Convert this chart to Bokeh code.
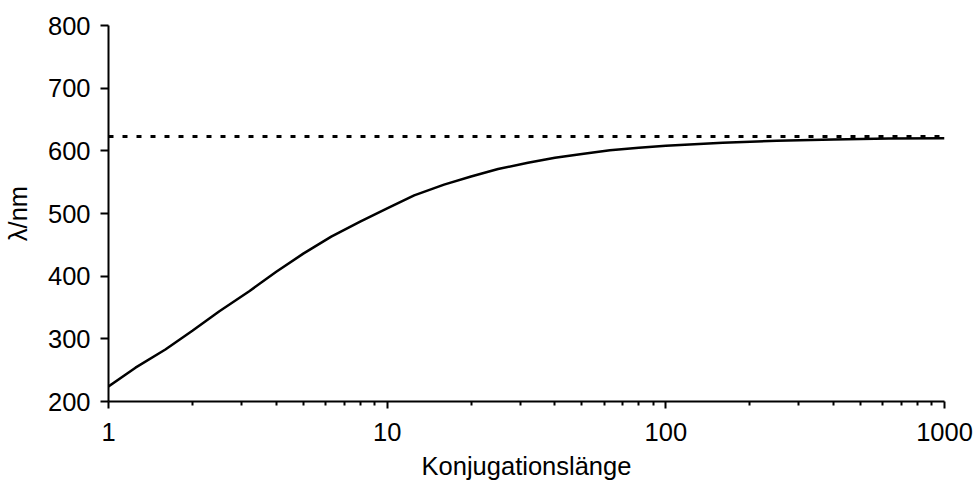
from bokeh.plotting import figure
from bokeh.models import FixedTicker, NumeralTickFormatter, Range1d
from bokeh.embed import file_html
from bokeh.resources import INLINE

# Data
conj_length = [1, 1.25, 1.6, 2, 2.5, 3.2, 4, 5, 6.3, 8, 10, 12.5, 16, 20, 25, 32,
               40, 50, 63, 80, 100, 160, 250, 400, 630, 1000]
wavelength = [224, 254, 283, 313, 344, 376, 407, 436, 463, 487, 508, 529, 546, 559,
              571, 581, 589, 595, 601, 605, 608, 613, 616, 618, 619.5, 620]
limit_x = [1, 1000]
limit_y = [623, 623]

x_major = [1, 10, 100, 1000]
x_minor = [2, 3, 4, 5, 6, 7, 8, 9, 20, 30, 40, 50, 60, 70, 80, 90,
           200, 300, 400, 500, 600, 700, 800, 900]
y_ticks = [200, 300, 400, 500, 600, 700, 800]

FONT = "Liberation Sans"
FS = "25.5px"

p = figure(width=973, height=492, x_axis_type="log",
           x_range=Range1d(1, 1000), y_range=Range1d(200, 800),
           output_backend="svg", toolbar_location=None,
           min_border_left=107, min_border_top=25,
           min_border_right=29, min_border_bottom=91)
p.outline_line_color = None
p.xgrid.visible = False
p.ygrid.visible = False
p.background_fill_color = "white"
p.border_fill_color = "white"

p.line(conj_length, wavelength, line_color="black", line_width=2.5)
p.line(limit_x, limit_y, line_color="black", line_width=3, line_dash="5 9")

xa = p.xaxis[0]
xa.ticker = FixedTicker(ticks=x_major, minor_ticks=x_minor)
xa.formatter = NumeralTickFormatter(format="0")
xa.axis_label = "Konjugationslänge"
xa.axis_line_width = 2
xa.major_tick_line_width = 2
xa.minor_tick_line_width = 2
xa.major_tick_out = 7
xa.major_tick_in = 0
xa.minor_tick_out = 4
xa.minor_tick_in = 0
xa.major_label_standoff = 14
xa.axis_label_standoff = 8
xa.major_label_text_font = FONT
xa.major_label_text_font_size = FS
xa.axis_label_text_font = FONT
xa.axis_label_text_font_size = FS
xa.axis_label_text_font_style = "normal"
xa.major_label_text_color = "black"
xa.axis_label_text_color = "black"

ya = p.yaxis[0]
ya.ticker = FixedTicker(ticks=y_ticks, minor_ticks=[])
ya.axis_label = "λ/nm"
ya.axis_line_width = 2
ya.major_tick_line_width = 2
ya.major_tick_out = 8
ya.major_tick_in = 0
ya.minor_tick_out = 0
ya.minor_tick_in = 0
ya.major_label_standoff = 10
ya.axis_label_standoff = 13
ya.major_label_text_font = FONT
ya.major_label_text_font_size = FS
ya.axis_label_text_font = FONT
ya.axis_label_text_font_size = FS
ya.axis_label_text_font_style = "normal"
ya.major_label_text_color = "black"
ya.axis_label_text_color = "black"

open("out.html", "w").write(file_html(p, INLINE))
